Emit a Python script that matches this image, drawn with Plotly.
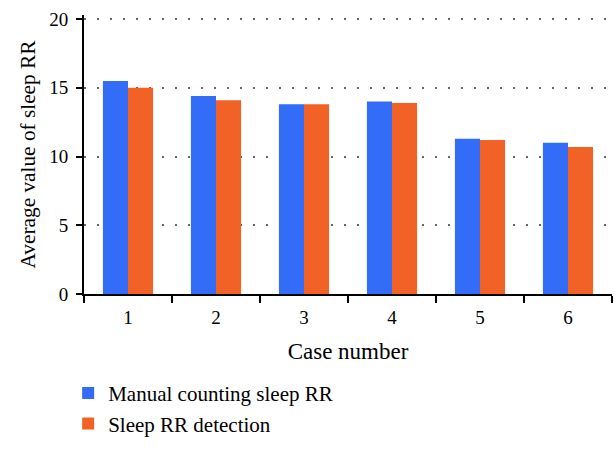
import plotly.graph_objects as go

cases = ["1", "2", "3", "4", "5", "6"]
manual = [15.5, 14.4, 13.8, 14.0, 11.3, 11.0]
detection = [15.0, 14.1, 13.8, 13.9, 11.2, 10.7]

FONT = "Liberation Serif"

fig = go.Figure()
fig.add_trace(go.Bar(x=cases, y=manual, name="Manual counting sleep RR",
                     marker=dict(color="#336CF6", line=dict(width=0))))
fig.add_trace(go.Bar(x=cases, y=detection, name="Sleep RR detection",
                     marker=dict(color="#F26227", line=dict(width=0))))

fig.update_layout(
    width=616, height=450,
    margin=dict(l=84, r=4, t=15, b=156, autoexpand=False),
    paper_bgcolor="white", plot_bgcolor="white",
    barmode="group", bargap=0.43, bargroupgap=0,
    font=dict(family=FONT, size=19, color="black"),
    showlegend=True,
    legend=dict(x=-0.03, xanchor="left", y=-0.283, yanchor="top",
                orientation="v", font=dict(size=21, family=FONT),
                itemwidth=30, bgcolor="rgba(0,0,0,0)", tracegroupgap=0),
    xaxis=dict(type="category", tickson="boundaries", ticks="outside",
               ticklen=7, tickwidth=1.5, tickcolor="black",
               showline=True, linecolor="black", linewidth=2,
               showgrid=False, automargin=False, ticklabelstandoff=5,
               title=dict(text="Case number", standoff=16),
               tickfont=dict(size=19)),
    yaxis=dict(range=[0, 20.3], tickvals=[0, 5, 10, 15, 20],
               ticks="outside", ticklen=6, tickwidth=1.5, tickcolor="black",
               showline=True, linecolor="black", linewidth=2,
               showgrid=True, gridcolor="#666666", griddash="2px,11px", gridwidth=1.5,
               zeroline=False, automargin=False, ticklabelstandoff=4,
               title=dict(text="Average value of sleep RR", standoff=8,
                          font=dict(family=FONT, size=21.3)),
               tickfont=dict(size=19)),
)

fig.write_html("out.html", post_script="document.body.style.margin='0';",
               config={"displayModeBar": False})
